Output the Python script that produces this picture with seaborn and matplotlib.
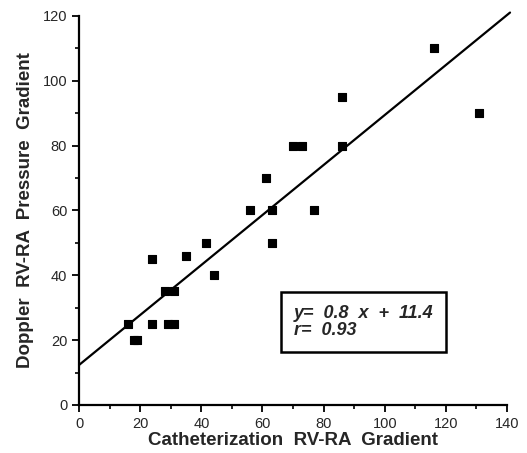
import matplotlib
matplotlib.use("Agg")
import matplotlib.pyplot as plt
import seaborn as sns
import pandas as pd
from matplotlib.ticker import MultipleLocator

# Data
cath = [16, 18, 19, 24, 24, 28, 31, 29, 31, 35, 41.5, 44, 56, 63, 63, 77,
        61, 70, 73, 86, 86, 116, 131]
doppler = [25, 20, 20, 45, 25, 35, 35, 25, 25, 46, 50, 40, 60, 60, 50, 60,
           70, 80, 80, 80, 95, 110, 90]
x_ticks = [0, 20, 40, 60, 80, 100, 120, 140]
y_ticks = [0, 20, 40, 60, 80, 100, 120]
equation_text = "y=  0.8  x  +  11.4\nr=  0.93"

df = pd.DataFrame({"cath": cath, "doppler": doppler})

sns.set_style("ticks")
plt.rcParams["font.family"] = ["Liberation Sans", "DejaVu Sans"]

fig = plt.figure(figsize=(5.27, 4.53), dpi=100)
ax = fig.add_axes([0.150, 0.106, 0.812, 0.859])
ax.set_xlim(0, 141)
ax.set_ylim(0, 120)

sns.regplot(data=df, x="cath", y="doppler", ax=ax, ci=None, truncate=False,
            scatter=False, line_kws=dict(color="black", lw=1.6))
sns.scatterplot(data=df, x="cath", y="doppler", ax=ax, marker="s", s=32,
                color="black", edgecolor="black", linewidth=0.8, zorder=3,
                clip_on=False)

ax.set_xlim(0, 140)
ax.set_ylim(0, 120)
for ln in ax.lines:
    ln.set_clip_on(False)
ax.set_xticks(x_ticks)
ax.set_yticks(y_ticks)
ax.xaxis.set_minor_locator(MultipleLocator(10))
ax.yaxis.set_minor_locator(MultipleLocator(10))
ax.tick_params(which="major", length=5, width=1.3, labelsize=10.5, color="black")
ax.tick_params(which="minor", length=3, width=1.2, color="black")
sns.despine(ax=ax)
for s in ["left", "bottom"]:
    ax.spines[s].set_linewidth(1.6)
    ax.spines[s].set_color("black")

ax.set_xlabel("Catheterization  RV-RA  Gradient", fontsize=13.5,
              fontweight="bold", labelpad=1)
ax.set_ylabel("Doppler  RV-RA  Pressure  Gradient", fontsize=13.5,
              fontweight="bold", labelpad=6)

ax.text(0.502, 0.213, equation_text, transform=ax.transAxes, fontsize=13,
        fontweight="bold", fontstyle="italic", va="center", ha="left",
        linespacing=1.05,
        bbox=dict(boxstyle="square,pad=0.72", facecolor="white",
                  edgecolor="black", linewidth=1.8))

fig.savefig("out.png", dpi=100)
